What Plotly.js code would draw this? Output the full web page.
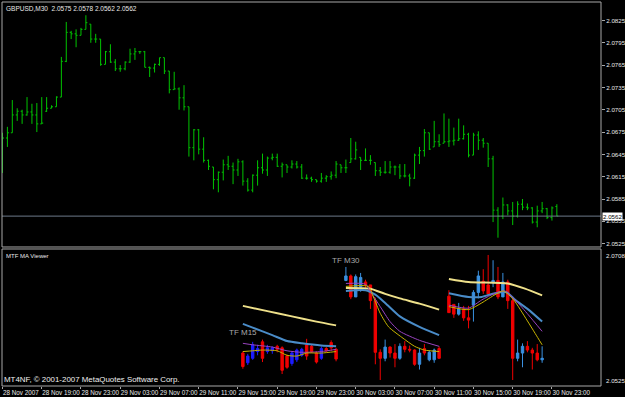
<!DOCTYPE html>
<html><head><meta charset="utf-8">
<script src="https://cdn.plot.ly/plotly-3.0.1.min.js"></script>
<style>html,body{margin:0;padding:0;background:#000;} #chart{width:625px;height:397px;}</style>
</head><body><div id="chart"></div>
<script>
const symbol = 'GBPUSD,M30';
const indicatorName = 'MTF MA Viewer';
const copyright = 'MT4NF, \u00a9 2001-2007 MetaQuotes Software Corp.';

// x-axis labels (bar index where each label sits)
const timeLabelBars = [1, 9, 17, 25, 33, 41, 49, 57, 65, 73, 81, 89, 97, 105, 113];
const timeLabels = ['28 Nov 2007', '28 Nov 19:00', '28 Nov 23:00', '29 Nov 03:00', '29 Nov 07:00',
  '29 Nov 11:00', '29 Nov 15:00', '29 Nov 19:00', '29 Nov 23:00', '30 Nov 03:00', '30 Nov 07:00',
  '30 Nov 11:00', '30 Nov 15:00', '30 Nov 19:00', '30 Nov 23:00'];
const priceTicks = [2.0525, 2.0555, 2.0585, 2.0615, 2.0645, 2.0675, 2.0705, 2.0735, 2.0765, 2.0795, 2.0825];

// Main M30 bars
const mOpen = [2.0625,2.0667,2.0674,2.0698,2.0703,2.0698,2.0702,2.0698,2.0686,2.0703,
2.0707,2.0709,2.0722,2.0770,2.0809,2.0807,2.0805,2.0813,2.0820,2.0800,
2.0800,2.0766,2.0783,2.0769,2.0760,2.0760,2.0769,2.0780,2.0783,2.0783,
2.0762,2.0761,2.0766,2.0775,2.0757,2.0732,2.0733,2.0721,2.0709,2.0654,
2.0678,2.0652,2.0637,2.0628,2.0611,2.0621,2.0631,2.0629,2.0624,2.0635,
2.0609,2.0597,2.0617,2.0627,2.0624,2.0640,2.0641,2.0629,2.0631,2.0628,
2.0632,2.0628,2.0613,2.0613,2.0611,2.0609,2.0613,2.0615,2.0617,2.0631,
2.0627,2.0634,2.0639,2.0641,2.0637,2.0637,2.0634,2.0623,2.0621,2.0621,
2.0628,2.0628,2.0616,2.0616,2.0613,2.0644,2.0650,2.0674,2.0655,2.0662,
2.0660,2.0662,2.0663,2.0664,2.0666,2.0672,2.0644,2.0671,2.0664,2.0660,
2.0639,2.0570,2.0562,2.0577,2.0569,2.0562,2.0578,2.0574,2.0573,2.0554,
2.0569,2.0572,2.0560,2.0575];
const mHigh = [2.0674,2.0682,2.0718,2.0707,2.0705,2.0722,2.0713,2.0714,2.0722,2.0722,
2.0711,2.0723,2.0776,2.0823,2.0811,2.0813,2.0815,2.0832,2.0820,2.0807,
2.0800,2.0784,2.0793,2.0773,2.0765,2.0770,2.0787,2.0788,2.0784,2.0784,
2.0763,2.0767,2.0775,2.0775,2.0757,2.0756,2.0735,2.0738,2.0709,2.0679,
2.0679,2.0668,2.0638,2.0628,2.0622,2.0638,2.0643,2.0634,2.0639,2.0637,
2.0613,2.0618,2.0637,2.0646,2.0642,2.0646,2.0646,2.0634,2.0631,2.0637,
2.0636,2.0632,2.0618,2.0615,2.0611,2.0620,2.0617,2.0622,2.0636,2.0631,
2.0638,2.0667,2.0662,2.0641,2.0653,2.0644,2.0634,2.0628,2.0636,2.0636,
2.0630,2.0632,2.0632,2.0619,2.0646,2.0655,2.0679,2.0674,2.0690,2.0672,
2.0700,2.0693,2.0681,2.0693,2.0684,2.0674,2.0674,2.0676,2.0667,2.0660,
2.0643,2.0574,2.0587,2.0578,2.0581,2.0582,2.0585,2.0579,2.0574,2.0576,
2.0581,2.0573,2.0575,2.0578];
const mLow = [2.0620,2.0655,2.0674,2.0690,2.0686,2.0697,2.0686,2.0675,2.0686,2.0702,
2.0707,2.0709,2.0722,2.0769,2.0800,2.0789,2.0805,2.0813,2.0795,2.0795,
2.0764,2.0766,2.0768,2.0757,2.0756,2.0758,2.0768,2.0772,2.0780,2.0762,
2.0749,2.0755,2.0764,2.0753,2.0727,2.0732,2.0705,2.0704,2.0642,2.0637,
2.0645,2.0634,2.0624,2.0598,2.0594,2.0610,2.0624,2.0605,2.0616,2.0603,
2.0595,2.0594,2.0603,2.0619,2.0616,2.0637,2.0628,2.0614,2.0620,2.0626,
2.0626,2.0612,2.0611,2.0608,2.0607,2.0607,2.0608,2.0611,2.0613,2.0620,
2.0620,2.0634,2.0638,2.0624,2.0636,2.0631,2.0616,2.0616,2.0619,2.0619,
2.0617,2.0612,2.0614,2.0602,2.0612,2.0632,2.0642,2.0651,2.0655,2.0655,
2.0660,2.0655,2.0657,2.0663,2.0665,2.0641,2.0644,2.0651,2.0654,2.0628,
2.0554,2.0533,2.0558,2.0563,2.0550,2.0560,2.0570,2.0570,2.0552,2.0547,
2.0566,2.0558,2.0556,2.0562];
const mClose = [2.0667,2.0674,2.0698,2.0703,2.0698,2.0702,2.0698,2.0686,2.0687,2.0707,
2.0709,2.0722,2.0770,2.0809,2.0807,2.0805,2.0813,2.0822,2.0800,2.0800,
2.0766,2.0783,2.0769,2.0760,2.0760,2.0769,2.0780,2.0783,2.0783,2.0762,
2.0761,2.0766,2.0775,2.0757,2.0732,2.0733,2.0721,2.0709,2.0654,2.0678,
2.0652,2.0637,2.0629,2.0611,2.0621,2.0631,2.0629,2.0624,2.0635,2.0609,
2.0597,2.0617,2.0627,2.0624,2.0640,2.0641,2.0629,2.0631,2.0628,2.0632,
2.0628,2.0613,2.0613,2.0611,2.0609,2.0613,2.0615,2.0617,2.0632,2.0627,
2.0627,2.0639,2.0651,2.0637,2.0637,2.0637,2.0623,2.0621,2.0621,2.0628,
2.0628,2.0616,2.0616,2.0613,2.0644,2.0650,2.0674,2.0652,2.0662,2.0658,
2.0662,2.0663,2.0664,2.0666,2.0672,2.0644,2.0671,2.0664,2.0660,2.0639,
2.0570,2.0562,2.0577,2.0569,2.0562,2.0578,2.0574,2.0573,2.0554,2.0569,
2.0572,2.0560,2.0573,2.0562];

// Indicator window: min / max labels
const indMax = 2.0708, indMin = 2.0525;

// Group 1: TF M15 candles (drawn from bar 50)
const g1Start = 50;
const g1Open  = [2.0569,2.0556,2.0562,2.0571,2.0584,2.0571,2.0572,2.0578,2.0576,2.0565,2.0555,2.0560,2.0566,2.0580,2.0578,2.0569,2.0562,2.0575,2.0583,2.0574];
const g1High  = [2.0571,2.0568,2.0584,2.0580,2.0587,2.0580,2.0578,2.0580,2.0578,2.0567,2.0571,2.0575,2.0576,2.0588,2.0580,2.0571,2.0578,2.0577,2.0586,2.0576];
const g1Low   = [2.0548,2.0553,2.0560,2.0566,2.0557,2.0568,2.0568,2.0570,2.0541,2.0548,2.0552,2.0557,2.0564,2.0560,2.0569,2.0555,2.0560,2.0570,2.0572,2.0558];
const g1Close = [2.0551,2.0565,2.0580,2.0575,2.0562,2.0576,2.0576,2.0574,2.0546,2.0550,2.0569,2.0573,2.0574,2.0565,2.0571,2.0557,2.0575,2.0572,2.0576,2.0561];

// Group 2: TF M30 candles (drawn from bar 71)
const g2Start = 71;
const g2Open  = [2.0666,2.0672,2.0644,2.0657,2.0664,2.0660,2.0639,2.0570,2.0562,2.0577,2.0569,2.0562,2.0578,2.0574,2.0573,2.0554,2.0575,2.0560,2.0560,2.0575];
const g2High  = [2.0684,2.0674,2.0674,2.0676,2.0667,2.0660,2.0643,2.0574,2.0587,2.0578,2.0581,2.0582,2.0585,2.0579,2.0574,2.0576,2.0581,2.0573,2.0575,2.0578];
const g2Low   = [2.0665,2.0641,2.0644,2.0651,2.0654,2.0628,2.0554,2.0533,2.0558,2.0563,2.0550,2.0560,2.0570,2.0570,2.0552,2.0547,2.0566,2.0558,2.0556,2.0562];
const g2Close = [2.0672,2.0644,2.0671,2.0670,2.0660,2.0639,2.0570,2.0562,2.0577,2.0569,2.0562,2.0578,2.0574,2.0573,2.0554,2.0569,2.0569,2.0570,2.0573,2.0562];

// Group 3: higher timeframe candles (drawn from bar 92)
const g3Start = 92;
const g3Open  = [2.0645,2.0634,2.0621,2.0628,2.0616,2.0633,2.0650,2.0665,2.0660,2.0663,2.0666,2.0644,2.0664,2.0639,2.0562,2.0569,2.0578,2.0573,2.0569,2.0560];
const g3High  = [2.0653,2.0634,2.0636,2.0632,2.0632,2.0653,2.0679,2.0681,2.0700,2.0693,2.0684,2.0676,2.0667,2.0643,2.0587,2.0582,2.0585,2.0576,2.0581,2.0578];
const g3Low   = [2.0623,2.0616,2.0619,2.0612,2.0602,2.0611,2.0642,2.0648,2.0647,2.0657,2.0641,2.0644,2.0628,2.0533,2.0558,2.0550,2.0570,2.0547,2.0558,2.0556];
const g3Close = [2.0623,2.0621,2.0628,2.0616,2.0613,2.0650,2.0672,2.0652,2.0648,2.0666,2.0644,2.0664,2.0639,2.0562,2.0569,2.0578,2.0573,2.0569,2.0560,2.0562];

// Moving averages (bar index, value)
const g1MaSlowX = [50, 55, 60, 65, 69];
const g1MaSlow  = [2.0632, 2.0625, 2.0618, 2.0611, 2.0606];
const g1MaMidX  = [50, 52, 56, 59, 62, 66, 69];
const g1MaMid   = [2.0608, 2.0603, 2.0593, 2.0585, 2.0582, 2.0579, 2.0578];
const g1MaFastX = [50, 52, 56, 59, 62, 66, 69];
const g1MaFast  = [2.0582, 2.0580, 2.0577, 2.0572, 2.0570, 2.0571, 2.0574];
const g1MaQuickX = [50, 52, 54, 57, 59, 61, 63, 66, 69];
const g1MaQuick  = [2.0571, 2.0572, 2.0573, 2.0572, 2.0566, 2.0565, 2.0569, 2.0569, 2.0571];

const g2MaSlowX = [71, 76, 79, 82, 86, 90];
const g2MaSlow  = [2.0656, 2.0655, 2.0648, 2.0642, 2.0635, 2.0627];
const g2MaMidX  = [71, 75, 77, 79, 82, 86, 90];
const g2MaMid   = [2.0652, 2.0653, 2.0647, 2.0636, 2.0618, 2.0604, 2.0593];
const g2MaFastX = [71, 75, 76, 78, 80, 82, 86, 90];
const g2MaFast  = [2.0662, 2.0661, 2.0651, 2.0631, 2.0611, 2.0598, 2.0586, 2.0578];
const g2MaQuickX = [71, 75.6, 76.6, 78, 79.7, 82.4, 85, 87, 90];
const g2MaQuick  = [2.0658, 2.0658, 2.0644, 2.0622, 2.0604, 2.0590, 2.0578, 2.0573, 2.0571];

const g3MaSlowX = [92, 96, 104, 107.5, 111];
const g3MaSlow  = [2.0668, 2.0664, 2.0662, 2.0655, 2.0646];
const g3MaMidX  = [92, 96, 98.7, 101.4, 103.8, 105.5, 108.2, 111];
const g3MaMid   = [2.0649, 2.0644, 2.0644, 2.0649, 2.0650, 2.0640, 2.0627, 2.0611];
const g3MaFastX = [92, 96, 98.7, 101.4, 103.4, 105.5, 108.2, 111];
const g3MaFast  = [2.0633, 2.0629, 2.0640, 2.0649, 2.0652, 2.0640, 2.0620, 2.0598];
const g3MaQuickX = [92, 96, 98.7, 101.4, 103.1, 105.2, 107.9, 109.6, 111];
const g3MaQuick  = [2.0631, 2.0627, 2.0636, 2.0647, 2.0652, 2.0640, 2.0613, 2.0595, 2.0580];

const FONT = 'Liberation Sans, Arial, sans-serif';
const GREEN = '#00c400';
const idx = (n, s) => Array.from({length: n}, (_, i) => s + i);

const traces = [];
traces.push({
  type: 'ohlc', x: idx(mOpen.length, 1), open: mOpen, high: mHigh, low: mLow, close: mClose,
  xaxis: 'x', yaxis: 'y', tickwidth: 0.3, hoverinfo: 'skip',
  increasing: {line: {color: GREEN, width: 1}}, decreasing: {line: {color: GREEN, width: 1}}
});
function candles(o, h, l, c, start, up, down) {
  return {type: 'candlestick', x: idx(o.length, start), open: o, high: h, low: l, close: c,
    xaxis: 'x', yaxis: 'y2', whiskerwidth: 0, hoverinfo: 'skip',
    increasing: {line: {color: up, width: 1}, fillcolor: up},
    decreasing: {line: {color: down, width: 1}, fillcolor: down}};
}
function ma(x, y, color, width) {
  return {type: 'scatter', mode: 'lines', x: x, y: y, xaxis: 'x', yaxis: 'y2',
    line: {color: color, width: width, shape: 'spline', smoothing: 0.6}, hoverinfo: 'skip'};
}
traces.push(candles(g1Open, g1High, g1Low, g1Close, g1Start, '#1c1cff', '#f00000'));
traces.push(candles(g2Open, g2High, g2Low, g2Close, g2Start, '#3a90e0', '#f00000'));
traces.push(candles(g3Open, g3High, g3Low, g3Close, g3Start, '#3a90e0', '#f00000'));
const KHAKI = '#eee08a', STEEL = '#4a8cc8', VIOLET = '#9a44c0', GOLD = '#c8b400';
traces.push(ma(g1MaSlowX, g1MaSlow, KHAKI, 2), ma(g1MaMidX, g1MaMid, STEEL, 2), ma(g1MaFastX, g1MaFast, VIOLET, 1), ma(g1MaQuickX, g1MaQuick, GOLD, 1));
traces.push(ma(g2MaSlowX, g2MaSlow, KHAKI, 2), ma(g2MaMidX, g2MaMid, STEEL, 2), ma(g2MaFastX, g2MaFast, VIOLET, 1), ma(g2MaQuickX, g2MaQuick, GOLD, 1));
traces.push(ma(g3MaSlowX, g3MaSlow, KHAKI, 2), ma(g3MaMidX, g3MaMid, STEEL, 2), ma(g3MaFastX, g3MaFast, VIOLET, 1), ma(g3MaQuickX, g3MaQuick, GOLD, 1));

const n = mClose.length;
const last = mClose[n - 1];
const header = symbol + '  ' + [mOpen[n-1], mHigh[n-1], mLow[n-1], mClose[n-1]].map(v => v.toFixed(4)).join(' ');
const BORDER = '#a8a8a8';
const TXT = '#e8e8e8';

const layout = {
  width: 625, height: 397,
  paper_bgcolor: '#000', plot_bgcolor: '#000',
  showlegend: false, dragmode: false,
  margin: {l: 2, r: 24, t: 2, b: 11, pad: 0},
  xaxis: {
    range: [0.9, 123.0], anchor: 'y2', domain: [0, 1],
    tickmode: 'array', tickvals: timeLabelBars, ticktext: timeLabels, tickangle: 0,
    ticklabelposition: 'outside right', ticks: 'outside', ticklen: 2, tickcolor: BORDER,
    tickfont: {family: FONT, size: 6.3, color: TXT},
    showgrid: false, zeroline: false, showline: false,
    rangeslider: {visible: false}, fixedrange: true
  },
  yaxis: {
    domain: [0.362, 1], range: [2.05205, 2.08498], side: 'right', anchor: 'x',
    tickmode: 'array', tickvals: priceTicks, tickformat: '.4f',
    ticks: 'outside', ticklen: 3, tickcolor: BORDER,
    tickfont: {family: FONT, size: 6.2, color: TXT},
    showgrid: false, zeroline: false, showline: false, fixedrange: true
  },
  yaxis2: {
    domain: [0, 0.3568], range: [indMin, indMax], side: 'right', anchor: 'x',
    showticklabels: false, ticks: '', showgrid: false, zeroline: false, showline: false, fixedrange: true
  },
  shapes: [
    {type: 'line', xref: 'x domain', x0: 0, x1: 1, yref: 'y', y0: last, y1: last, line: {color: '#6c7a89', width: 1}},
    {type: 'rect', xref: 'x domain', x0: 0, x1: 1, yref: 'y domain', y0: 0, y1: 1, line: {color: BORDER, width: 1}},
    {type: 'rect', xref: 'x domain', x0: 0, x1: 1, yref: 'y2 domain', y0: 0, y1: 1, line: {color: BORDER, width: 1}}
  ],
  annotations: [
    {text: header, xref: 'paper', yref: 'paper', x: 0.004, y: 0.997, xanchor: 'left', yanchor: 'top', showarrow: false,
      font: {family: FONT, size: 6.5, color: TXT}},
    {text: indicatorName, xref: 'paper', yref: 'y2 domain', x: 0.004, y: 0.985, xanchor: 'left', yanchor: 'top', showarrow: false,
      font: {family: FONT, size: 6, color: TXT}},
    {text: copyright, xref: 'paper', yref: 'y2 domain', x: 0.0, y: 0.0, xanchor: 'left', yanchor: 'bottom', showarrow: false,
      font: {family: FONT, size: 7.9, color: '#f0f0f0'}},
    {text: 'TF M15', xref: 'x', yref: 'y2', x: g1Start, y: 2.0596, xanchor: 'center', yanchor: 'middle', showarrow: false,
      font: {family: FONT, size: 8, color: '#a8a8a8'}},
    {text: 'TF M30', xref: 'x', yref: 'y2', x: g2Start, y: 2.0692, xanchor: 'center', yanchor: 'middle', showarrow: false,
      font: {family: FONT, size: 8, color: '#a8a8a8'}},
    {text: last.toFixed(4), xref: 'paper', yref: 'y', x: 1, y: last, xanchor: 'left', yanchor: 'middle', showarrow: false,
      bgcolor: '#ffffff', borderpad: 0, xshift: 1, font: {family: FONT, size: 6.2, color: '#000'}},
    {text: indMax.toFixed(4), xref: 'paper', yref: 'y2 domain', x: 1, y: 0.99, xanchor: 'left', yanchor: 'top', showarrow: false,
      xshift: 3, font: {family: FONT, size: 6.2, color: TXT}},
    {text: indMin.toFixed(4), xref: 'paper', yref: 'y2 domain', x: 1, y: 0.0, xanchor: 'left', yanchor: 'bottom', showarrow: false,
      xshift: 3, font: {family: FONT, size: 6.2, color: TXT}}
  ]
};
Plotly.newPlot('chart', traces, layout, {displayModeBar: false, staticPlot: true});
</script></body></html>
